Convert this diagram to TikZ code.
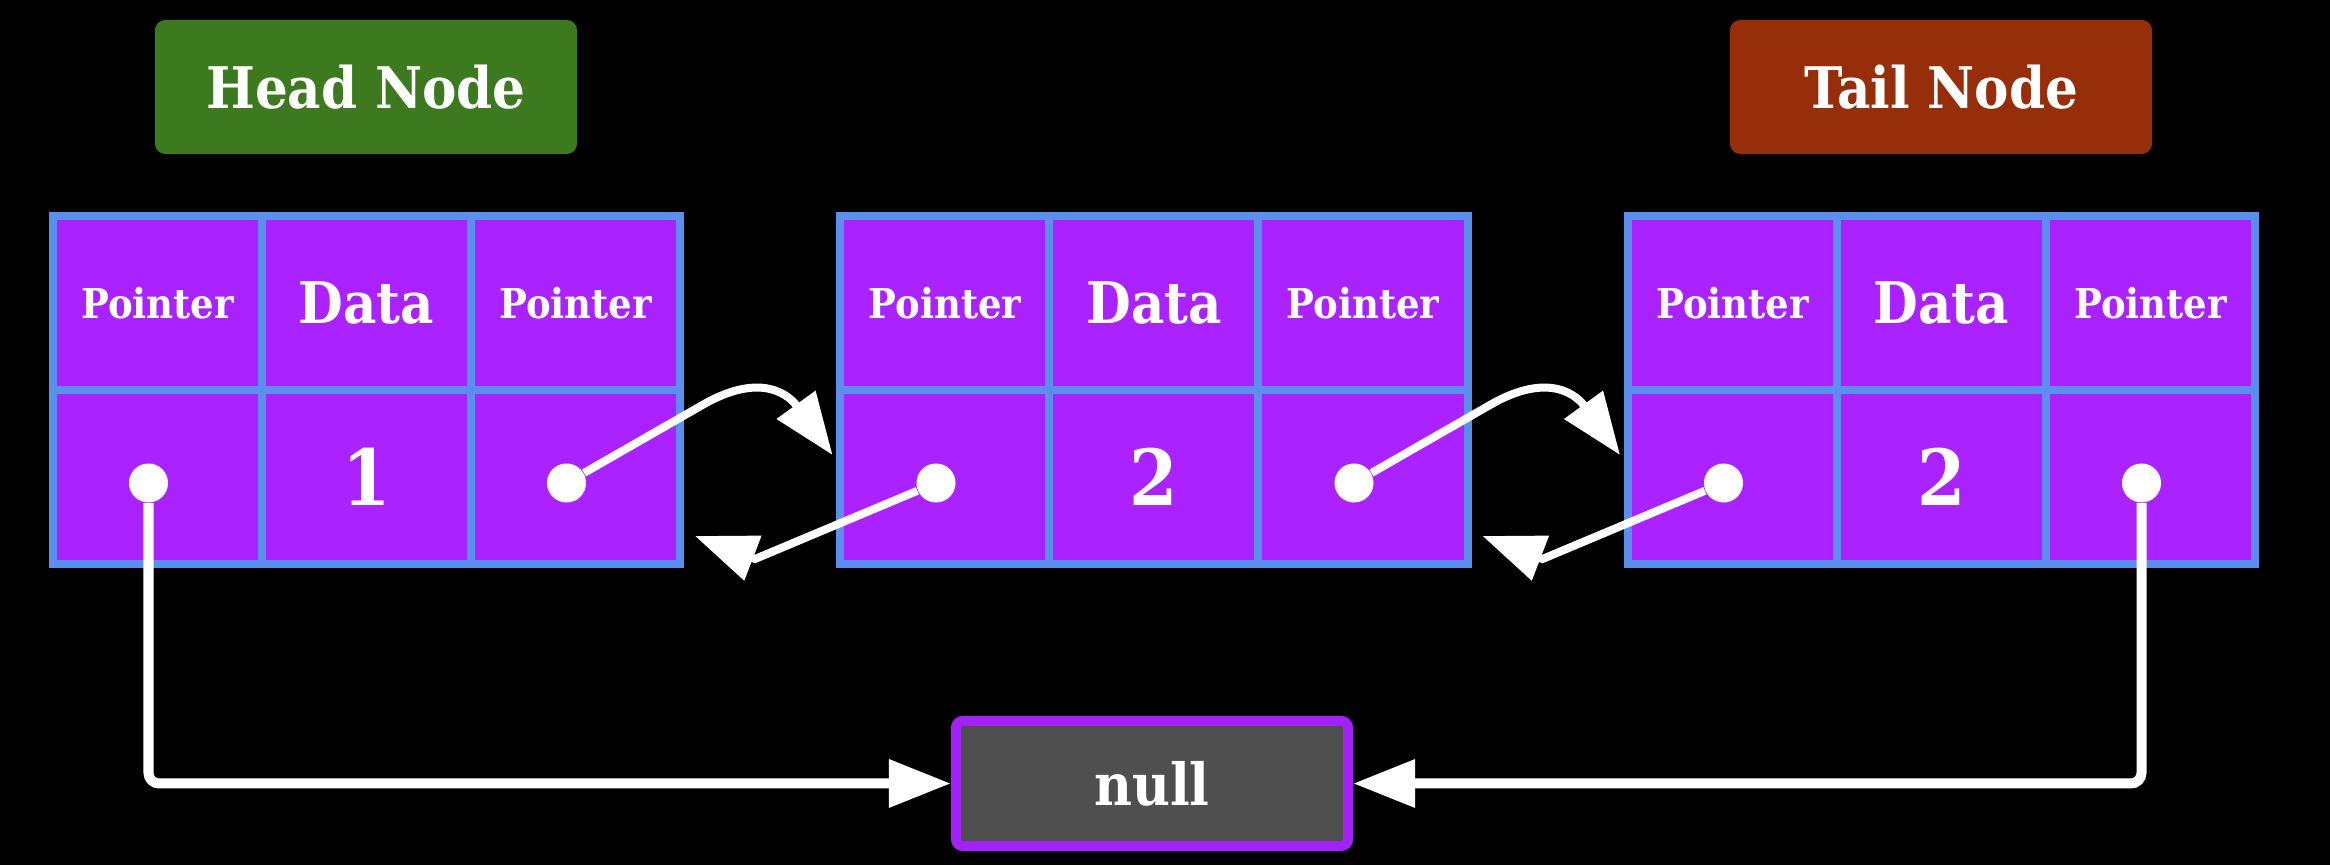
\documentclass[tikz,border=0pt]{standalone}
\usepackage{fontspec}
\setmainfont{DejaVu Serif Condensed}
\usetikzlibrary{arrows.meta}
\definecolor{cellfill}{HTML}{AA22FF}
\definecolor{cellline}{HTML}{5A8FEE}
\definecolor{headgreen}{HTML}{3D7A1F}
\definecolor{tailred}{HTML}{972E0A}
\definecolor{nullgray}{HTML}{4F4F4F}
\definecolor{nullline}{HTML}{A322F8}

\begin{document}
\begin{tikzpicture}[
        x=0.01cm, y=-0.01cm, font=\bfseries,
        >={Triangle[length=0.62cm, width=0.46cm]},
        cell/.style={draw=cellline, fill=cellfill, line width=0.08cm, minimum width=2.09cm, minimum height=1.74cm, inner sep=0pt, text=white},
        ptr/.style={font=\bfseries\fontsize{11.7}{14}\selectfont},
        dat/.style={font=\bfseries\fontsize{16.3}{20}\selectfont},
        num/.style={font=\bfseries\fontsize{22}{26}\selectfont},
        tag/.style={rounded corners=3pt, minimum width=4.22cm, minimum height=1.34cm, text=white, font=\bfseries\fontsize{16.3}{20}\selectfont},
        dot/.style={circle, fill=white, minimum size=0.39cm, inner sep=0pt},
        link/.style={->, white, line width=0.08cm},
        wire/.style={->, white, line width=0.1cm, rounded corners=3pt}]
    \fill[black] (0,0) rectangle (2330,865);
    \node[tag, fill=headgreen] (head) at (366,87) {Head Node};
    \node[tag, fill=tailred] (tail) at (1941,87) {Tail Node};
    \foreach \i/\x/\val in {1/53/1, 2/840.5/2, 3/1628/2}{
        \node[cell, ptr] (t\i-1) at (\x+104.5,303) {Pointer};
        \node[cell, dat] (t\i-2) at (\x+313.5,303) {Data};
        \node[cell, ptr] (t\i-3) at (\x+522.5,303) {Pointer};
        \node[cell] (v\i-1) at (\x+104.5,477) {};
        \node[cell, num] (v\i-2) at (\x+313.5,477) {\val};
        \node[cell] (v\i-3) at (\x+522.5,477) {};
        \node[dot] (prev\i) at ([shift={(-9,6)}]v\i-1) {};
        \node[dot] (next\i) at ([shift={(-9,6)}]v\i-3) {};
    }
    \foreach \i/\j in {1/2, 2/3}{
        \coordinate (knee\i) at ([shift={(136,-78)}]next\i);
        \coordinate (fwd\j) at ([shift={(266,-28)}]next\i);
        \draw[link] (next\i) -- (knee\i) to[out=30, in=126, looseness=1.3] (fwd\j);
        \coordinate (turn\i) at ([shift={(-181,76)}]prev\j);
        \coordinate (back\i) at ([shift={(-241,53)}]prev\j);
        \draw[link] (prev\j) -- (turn\i) -- (back\i);
    }
    \node[draw=nullline, fill=nullgray, line width=0.1cm, rounded corners=2pt, minimum width=3.92cm, minimum height=1.25cm, text=white, font=\bfseries\fontsize{16.5}{20}\selectfont] (null) at (1152,783.5) {null};
    \draw[wire] (prev1) |- (null.west);
    \draw[wire] (next3) |- (null.east);
\end{tikzpicture}
\end{document}
